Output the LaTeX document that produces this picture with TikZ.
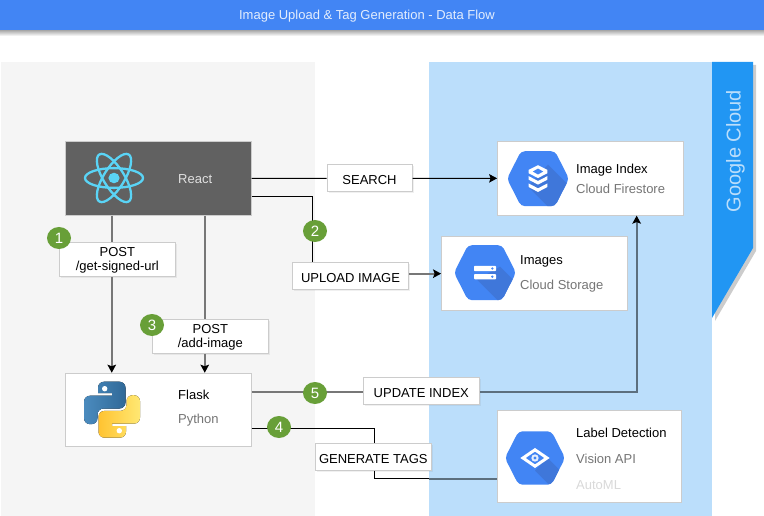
\documentclass[tikz,border=0pt]{standalone}
\usepackage{fontspec}
\setmainfont{Liberation Sans}
\usetikzlibrary{arrows.meta,calc,shadows,shapes.geometric}
\definecolor{headblue}{HTML}{4285F4}
\definecolor{hexdark}{HTML}{3F77DA}
\definecolor{panelgray}{HTML}{F5F5F5}
\definecolor{panelblue}{HTML}{BBDEFB}
\definecolor{ribbonblue}{HTML}{2196F3}
\definecolor{boxline}{HTML}{CCCCCC}
\definecolor{reactgray}{HTML}{616161}
\definecolor{subgray}{HTML}{757575}
\definecolor{linegray}{HTML}{777777}
\definecolor{lineblue}{HTML}{5C6F7E}
\definecolor{badgegreen}{HTML}{689F38}
\definecolor{reactcyan}{HTML}{5AD4F6}
\tikzset{
    pics/hexicon/.style n args={2}{code={
        \begin{scope}
            \clip[rounded corners=4pt] (-31,0) -- (-17,-27.5) -- (17,-27.5) -- (31,0) -- (17,27.5) -- (-17,27.5) -- cycle;
            \fill[headblue] (-31,-28) rectangle (31,28);
            \fill[hexdark] (#1) -- ++(40,40) -- ($(#2)+(40,40)$) -- (#2) -- cycle;
        \end{scope}
    }},
}
\begin{document}
\begin{tikzpicture}[
        x=1pt, y=-1pt,
        every node/.style={font=\fontsize{13}{15}\selectfont, inner sep=0pt},
        panel/.style={draw=none, minimum height=454pt},
        card/.style={draw=boxline, line width=1pt, fill=white, minimum height=73.5pt},
        tag/.style={draw=boxline, line width=1pt, fill=white, minimum width=116pt, minimum height=27pt, align=center, text height=12.6pt,
            drop shadow={shadow xshift=1.5pt, shadow yshift=-1.5pt, opacity=.12}},
        posttag/.style={tag, minimum height=34pt, text height=22.6pt, text depth=0pt},
        badge/.style={ellipse, fill=badgegreen, text=white, minimum width=24pt, minimum height=22pt, font=\fontsize{15}{15}\selectfont},
        cardname/.style={anchor=base west, text=black},
        cardsub/.style={anchor=base west, text=subgray},
        thin line/.style={draw=black, line width=1pt},
        thick gray/.style={draw=linegray, line width=2pt},
        thick blue/.style={draw=lineblue, line width=2pt},
        arrow/.style={-{Stealth[black, length=8pt, width=8.5pt, inset=1.5pt]}},
    ]
    \useasboundingbox (0,0) rectangle (764,516);

    % header and backgrounds
    \fill[top color=black!35, bottom color=white] (0,30) rectangle (764,36);
    \node[fill=headblue, minimum width=764pt, minimum height=30pt] (header) at (382,15) {};
    \node[anchor=base, text=white!85!headblue] (title) at (367,20) {Image Upload \& Tag Generation - Data Flow};
    \node[panel, fill=panelgray, minimum width=314pt] (client) at (158,289) {};
    \node[panel, fill=panelblue, minimum width=283pt] (gcp) at (570.5,289) {};
    \fill[ribbonblue, drop shadow={shadow xshift=3pt, shadow yshift=-3pt, opacity=.4}] (712,62) -- (753,62) -- (753,248) -- (712,318) -- cycle;
    \node[rotate=90, text=panelblue, font=\fontsize{20}{22}\selectfont] (cloud) at (735.5,151) {Google Cloud};

    % boxes
    \node[card, fill=reactgray, minimum width=185.5pt] (react) at (158.25,178.35) {};
    \node[card, minimum width=185.5pt] (flask) at (158.25,410) {};
    \node[card, minimum width=185.5pt] (index) at (590.35,178.35) {};
    \node[card, minimum width=185.5pt] (images) at (534.35,273.65) {};
    \node[card, minimum width=183.6pt, minimum height=91.3pt] (vision) at (589.5,456.35) {};

    \node[cardname, text=white!88!black] (reactname) at (178,183.3) {React};
    \node[cardname] (flaskname) at (178,399.3) {Flask};
    \node[cardsub] (flasksub) at (178,423.3) {Python};
    \node[cardname] (indexname) at (576,173.3) {Image Index};
    \node[cardsub] (indexsub) at (576,193.3) {Cloud Firestore};
    \node[cardname] (imagesname) at (520,265) {Images};
    \node[cardsub] (imagessub) at (520,290) {Cloud Storage};
    \node[cardname] (visionname) at (576,437.5) {Label Detection};
    \node[cardsub] (visionsub) at (576,463.5) {Vision API};
    \node[cardsub, text=black!15] (visionml) at (576,489.3) {AutoML};

    % labels on the lines
    \node[posttag] (geturl) at (117.3,259.3) {POST\\[-1pt]/get-signed-url};
    \node[posttag] (addimage) at (210.3,336.3) {POST\\[-1pt]/add-image};
    \node[tag, minimum width=85pt] (search) at (369.5,178.5) {SEARCH};
    \node[tag] (upload) at (350.5,275.8) {UPLOAD IMAGE};
    \node[tag] (update) at (421.3,390.8) {UPDATE INDEX};
    \node[tag] (generate) at (373.3,456.8) {GENERATE TAGS};

    % connectors
    \coordinate (reactleft) at ([xshift=-46.5pt]react.south);
    \coordinate (reactright) at ([xshift=46.5pt]react.south);
    \coordinate (reactlow) at ([yshift=-17.8pt]react.east);
    \coordinate (flaskhigh) at ([yshift=18.3pt]flask.east);
    \coordinate (flasklow) at ([yshift=-18pt]flask.east);
    \coordinate (visionin) at ([yshift=-22.4pt]vision.west);

    \draw[thick gray] (reactleft) -- (reactleft |- geturl.north);
    \draw[thick gray, arrow] (reactleft |- geturl.south) -- (reactleft |- flask.north);
    \draw[thick gray] (reactright) -- (reactright |- addimage.north);
    \draw[thick gray, arrow] (reactright |- addimage.south) -- (reactright |- flask.north);

    \draw[thin line] (react.east) -- (search.west);
    \draw[thin line, arrow] (search.east) -- (index.west);

    \draw[thin line] (reactlow) -| ([xshift=-38pt]upload.north);
    \draw[thick gray, arrow] (images.west -| upload.east) -- (images.west);

    \draw[thick gray] (flaskhigh) -- (flaskhigh -| update.west);
    \draw[thick blue, arrow] (flaskhigh -| update.east) -| ([xshift=46.3pt]index.south);

    \draw[thin line] (flasklow) -| ([xshift=1.4pt]generate.north);
    \draw[thin line] ([xshift=1.4pt]generate.south) |- (visionin);
    \draw[thick blue, line width=1.6pt] (visionin -| gcp.west) -- (visionin);

    % badges
    \node[badge] (one) at (59,238) {1};
    \node[badge] (two) at (315,231) {2};
    \node[badge] (three) at (152,325) {3};
    \node[badge] (four) at (279,427) {4};
    \node[badge] (five) at (315,393) {5};

    % react logo
    \begin{scope}[shift={(114,178)}, yscale=.94]
        \foreach \turn in {0,60,120} {
            \draw[reactcyan, line width=2.3pt, rotate=\turn] (0,0) ellipse (29pt and 10.5pt);
        }
        \fill[reactcyan] (0,0) circle (5.6pt);
    \end{scope}

    % python logo
    \begin{scope}[shift={(112,409.7)}]
        \foreach \turn/\colA/\colB in {0/4B8BBE/306998, 180/FFC331/FFE873} {
            \definecolor{snakeleft}{HTML}{\colA}
            \definecolor{snakeright}{HTML}{\colB}
            \fill[rotate=\turn, left color=snakeleft, right color=snakeright, rounded corners=6pt]
                (-14,-16.5) -- (-14,-28) -- (13.5,-28) -- (13.5,-1.2) -- (-14.5,-1.2) -- (-14.5,14.5) -- (-28,14.5) -- (-28,-14)
                [sharp corners] -- (0,-14) -- (0,-16.5) -- cycle;
            \fill[white, rotate=\turn] (-7.3,-21) circle (2.7pt);
        }
    \end{scope}

    % service icons
    \pic at (538,178.7) {hexicon={10,-14}{-10,8}};
    \begin{scope}[shift={(538,178.7)}, white, xscale=.92, yscale=.92]
        \fill (0,-14.7) -- (10.3,-9.5) -- (10.3,-6) -- (0,-0.7) -- (-10.3,-6) -- (-10.3,-9.5) -- cycle;
        \fill[headblue] (0,-11) -- (5.6,-7.8) -- (0,-4.6) -- (-5.6,-7.8) -- cycle;
        \foreach \drop in {0,8} {
            \fill (-10.3,-2.8+\drop) -- (0,2.4+\drop) -- (10.3,-2.8+\drop) -- (10.3,1+\drop) -- (0,6.4+\drop) -- (-10.3,1+\drop) -- cycle;
        }
    \end{scope}

    \pic at (485,272.7) {hexicon={15,-6}{-8,7}};
    \begin{scope}[shift={(485,272.7)}]
        \foreach \row in {-4.2,4} {
            \fill[white, rounded corners=.8pt] (-11,\row-2.6) rectangle (11,\row+2.6);
            \fill[headblue] (7.3,\row) circle (1.3pt);
        }
    \end{scope}

    \pic[scale=.97] at (535,458) {hexicon={13,0}{0,13}};
    \begin{scope}[shift={(535,458)}]
        \draw[white, line width=3pt, line join=miter] (0,-8.2) -- (12,0) -- (0,8.2) -- (-12,0) -- cycle;
        \fill[white!85!headblue] (0,0) circle (3.7pt);
        \fill[headblue] (0,0) circle (1.6pt);
    \end{scope}

    \end{tikzpicture}
\end{document}
